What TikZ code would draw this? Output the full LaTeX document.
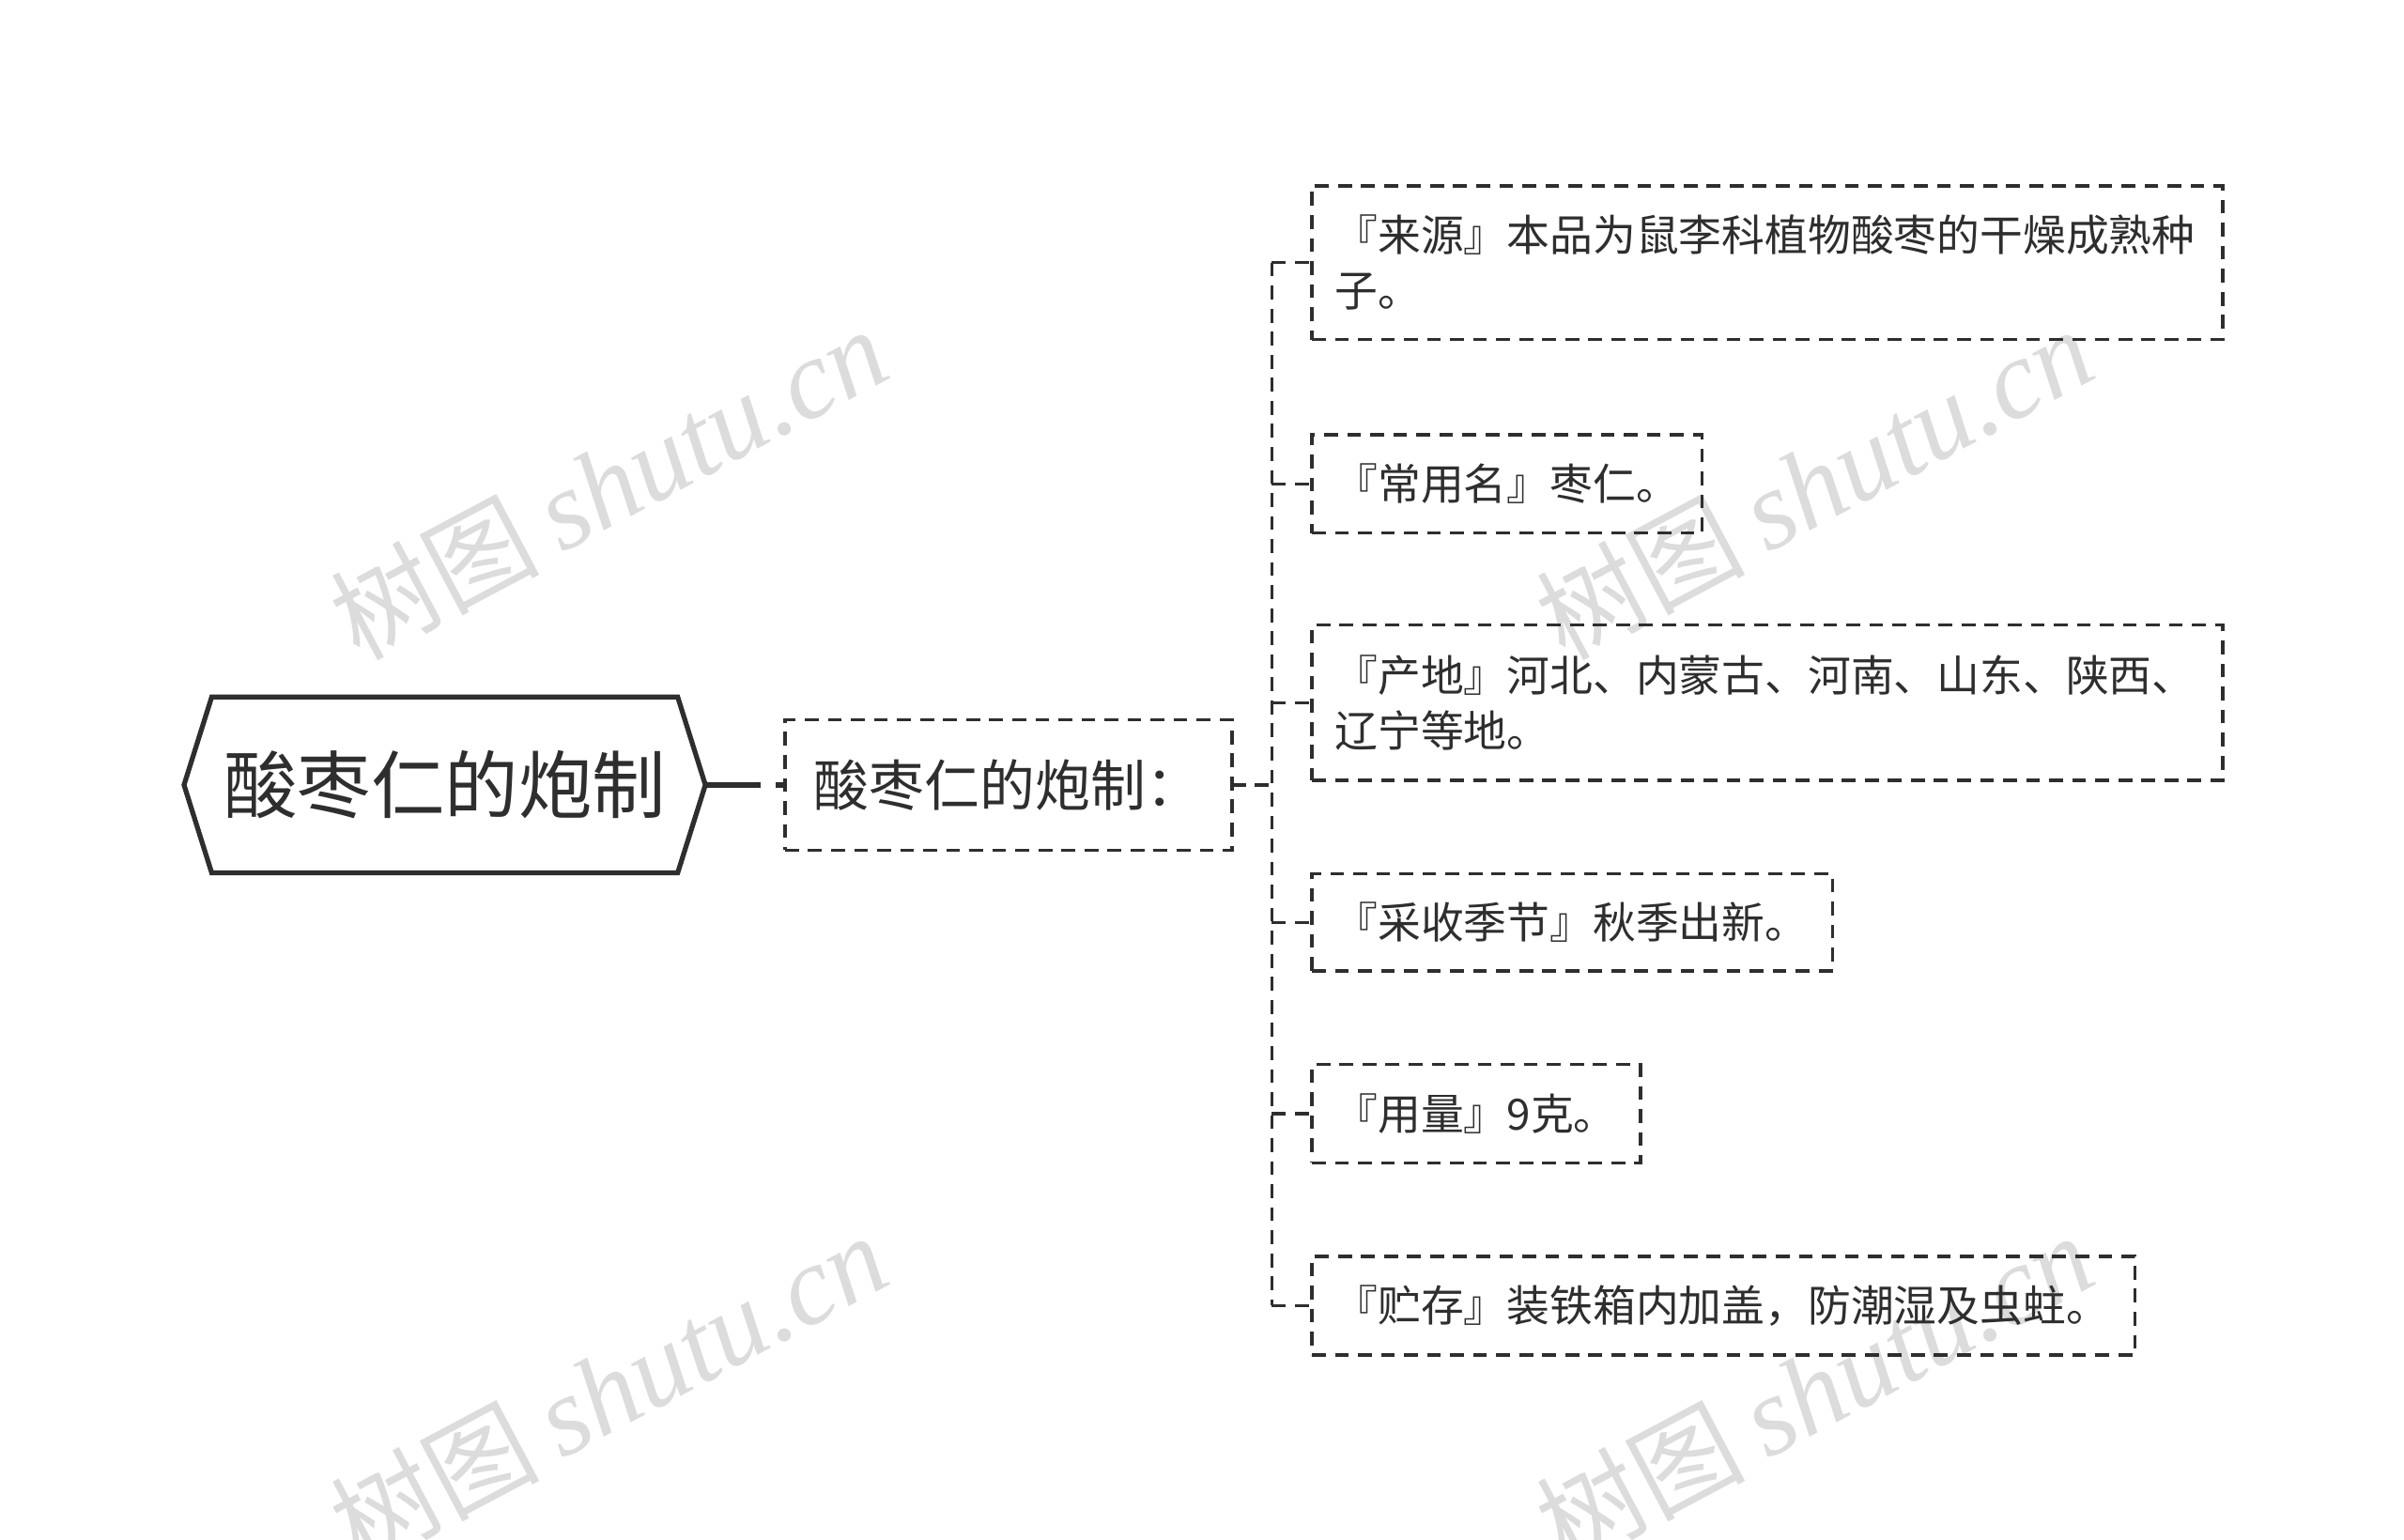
\documentclass[tikz,border=0pt]{standalone}
\usepackage{fontspec}
\setmainfont{Noto Sans CJK SC}
\newfontfamily\wmlatin{Liberation Serif}
\definecolor{ink}{HTML}{2E2E2E}
\definecolor{wm}{HTML}{DCDCDC}
\begin{document}
\begin{tikzpicture}[x=1pt,y=-1pt,
  dashline/.style={draw=ink, line width=2.1pt, dash pattern=on 9pt off 6pt},
  leaf/.style={dashline, text=ink, font=\fontsize{28pt}{36pt}\selectfont, anchor=west, inner xsep=15pt, inner ysep=0pt, outer sep=0pt, align=left},
  link/.style={dashline},
  wmark/.style={text=wm, rotate=28, inner sep=0pt}]
\useasboundingbox (0,0) rectangle (1565,1002);
% watermarks
\foreach \cx/\cy [count=\i] in {396/315,1181/315,396/905,1181/905}
  \node[wmark] (wm\i) at (\cx,\cy) {{\fontsize{68pt}{68pt}\selectfont 树图}\hspace{14pt}{\wmlatin\itshape\fontsize{73pt}{73pt}\selectfont shutu.cn}};
% root
\node[minimum width=339pt, minimum height=114pt, inner sep=0pt, text=ink, font=\fontsize{48pt}{48pt}\selectfont] (root) at (289.5,511) {酸枣仁的炮制};
\draw[ink, line width=3.2pt, line join=miter] (root.west) -- ([xshift=18pt]root.north west) -- ([xshift=-18pt]root.north east) -- (root.east) -- ([xshift=-18pt]root.south east) -- ([xshift=18pt]root.south west) -- cycle;
% child
\node[dashline, minimum height=85pt, text width=253pt, inner xsep=19pt, inner ysep=0pt, outer sep=0pt, align=left, text=ink, font=\fontsize{36pt}{36pt}\selectfont, anchor=west] (child) at (511,511) {酸枣仁的炮制：};
\draw[ink, line width=3.2pt, dash pattern=on 36pt off 10pt on 8pt off 100pt] (root.east) -- (child.west);
% leaves
\node[leaf, text width=563pt, minimum height=100pt] (l1) at (854,171) {『来源』本品为鼠李科植物酸枣的干燥成熟种\\子。};
\node[leaf, text width=224pt, minimum height=64pt] (l2) at (854,315) {『常用名』枣仁。};
\node[leaf, text width=563pt, minimum height=101pt] (l3) at (854,457.5) {『产地』河北、内蒙古、河南、山东、陕西、\\辽宁等地。};
\node[leaf, text width=309pt, minimum height=63pt] (l4) at (854,600.5) {『采收季节』秋季出新。};
\node[leaf, text width=184pt, minimum height=64pt] (l5) at (854,725) {『用量』9克。};
\node[leaf, text width=506pt, minimum height=64pt] (l6) at (854,850) {『贮存』装铁箱内加盖，防潮湿及虫蛀。};
% connectors
\coordinate (fork) at (828,511);
\draw[link] (child.east) -- (fork);
\draw[link] (l1.west -| fork) -- (l6.west -| fork);
\foreach \n in {l1,l2,l3,l4,l5,l6}
  \draw[link] (\n.west -| fork) -- (\n.west);
\end{tikzpicture}
\end{document}
